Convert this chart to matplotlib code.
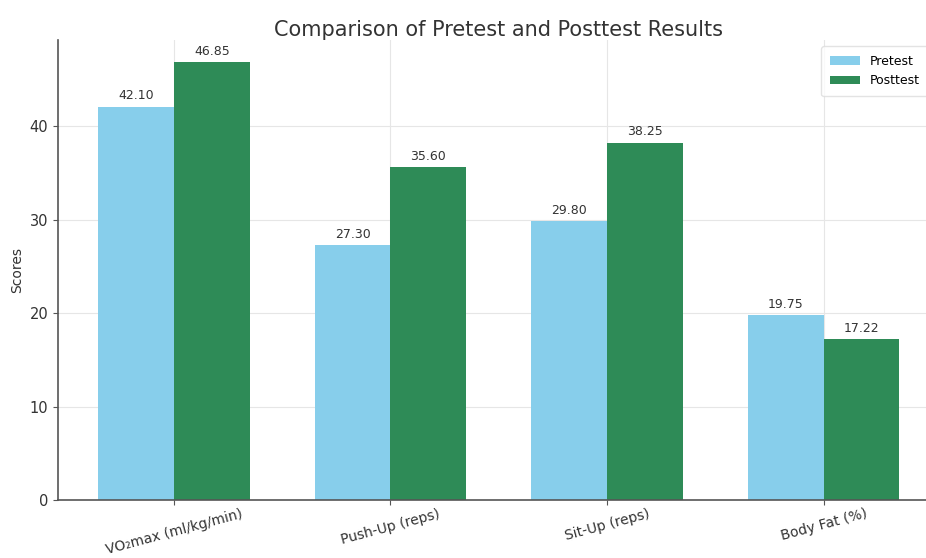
import matplotlib
matplotlib.use("Agg")
import matplotlib.pyplot as plt
import numpy as np

# Data
categories = ["VO\u2082max (ml/kg/min)", "Push-Up (reps)", "Sit-Up (reps)", "Body Fat (%)"]
pretest = [42.10, 27.30, 29.80, 19.75]
posttest = [46.85, 35.60, 38.25, 17.22]

x = np.arange(len(categories))
width = 0.35

fig = plt.figure(figsize=(9.26, 5.58), dpi=100)
ax = fig.add_axes([0.0626, 0.104, 0.952, 0.824])

b1 = ax.bar(x - width / 2, pretest, width, label="Pretest", color="#87CEEB")
b2 = ax.bar(x + width / 2, posttest, width, label="Posttest", color="#2E8B57")

for bars in (b1, b2):
    for rect in bars:
        h = rect.get_height()
        ax.annotate(f"{h:.2f}", xy=(rect.get_x() + rect.get_width() / 2, h),
                    xytext=(0, 3), textcoords="offset points",
                    ha="center", va="bottom", fontsize=9, color="#333333")

ax.set_title("Comparison of Pretest and Posttest Results", fontsize=15, color="#333333", pad=3)
ax.set_ylabel("Scores", fontsize=10, color="#333333")
ax.set_xticks(x)
ax.set_xticklabels(categories, rotation=15, fontsize=10, color="#333333")
ax.tick_params(axis="x", pad=1.5)
ax.tick_params(axis="y", labelsize=10.5, colors="#333333")
ax.tick_params(axis="both", color="#555555")
ax.set_ylim(0, 49.2)

ax.grid(True, color="#e6e6e6", linewidth=0.8)
ax.set_axisbelow(True)
for side in ("top", "right"):
    ax.spines[side].set_visible(False)
for side in ("left", "bottom"):
    ax.spines[side].set_color("#555555")
    ax.spines[side].set_linewidth(1.2)

leg = ax.legend(loc="upper right", fontsize=9, bbox_to_anchor=(0.995, 1.0),
                handlelength=2.4, borderpad=0.7)
leg.get_frame().set_edgecolor("#dddddd")

fig.savefig("out.png", dpi=100)
